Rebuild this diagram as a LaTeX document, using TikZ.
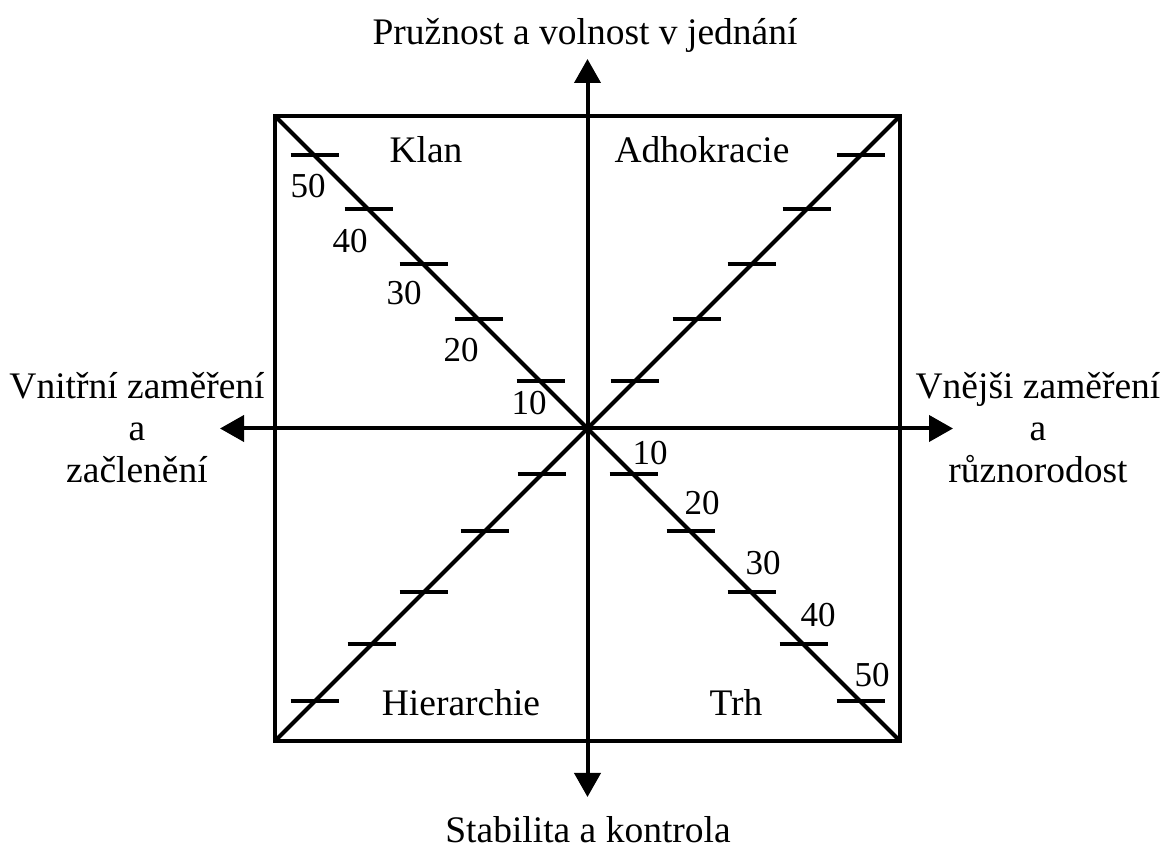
\documentclass[tikz,border=0pt]{standalone}
\usepackage{fontspec}
\setmainfont{Liberation Serif}
\usetikzlibrary{arrows.meta}
\begin{document}
\begin{tikzpicture}[x=0.5pt,y=-0.5pt,
  frame/.style={line width=2pt, line join=miter},
  axisline/.style={line width=2pt, arrows={Triangle[length=12pt,width=13pt]-Triangle[length=12pt,width=13pt]}},
  diag/.style={line width=2pt},
  tickmark/.style={line width=2pt},
  lbl/.style={font=\fontsize{18.75}{21}\selectfont, inner sep=0pt, align=center},
  num/.style={font=\fontsize{17.5}{20}\selectfont, inner sep=0pt, anchor=base}]
\useasboundingbox (0,0) rectangle (1173,854);
% square
\coordinate (tl) at (275,116);
\coordinate (tr) at (900,116);
\coordinate (br) at (900,741);
\coordinate (bl) at (275,741);
\coordinate (c) at (587.5,428.5);
\draw[frame] (tl) -- (tr) -- (br) -- (bl) -- cycle;
% diagonals
\draw[diag] (tl) -- (br);
\draw[diag] (tr) -- (bl);
% axes
\coordinate (up) at (587.5,59);
\coordinate (down) at (587.5,797);
\coordinate (left) at (220,428.5);
\coordinate (right) at (953,428.5);
\draw[axisline] (down) -- (up);
\draw[axisline] (left) -- (right);
% ticks
\foreach \d in {47,109,164,219,273}{
  \draw[tickmark] ({587.5-\d-24},{428.5-\d}) -- ++(48,0);
  \draw[tickmark] ({587.5+\d-24},{428.5-\d}) -- ++(48,0);
}
\foreach \d in {46,103,164,216,273}{
  \draw[tickmark] ({587.5-\d-24},{428.5+\d}) -- ++(48,0);
  \draw[tickmark] ({587.5+\d-24},{428.5+\d}) -- ++(48,0);
}
% numbers upper-left
\node[num] (n50a) at (308,198) {50};
\node[num] (n40a) at (350,253) {40};
\node[num] (n30a) at (404,305) {30};
\node[num] (n20a) at (461,362) {20};
\node[num] (n10a) at (529,415) {10};
% numbers lower-right
\node[num] (n10b) at (650,465) {10};
\node[num] (n20b) at (702,515) {20};
\node[num] (n30b) at (763,575) {30};
\node[num] (n40b) at (818,627) {40};
\node[num] (n50b) at (872,687) {50};
% quadrant labels
\node[lbl, anchor=base] (klan) at (426,163) {Klan};
\node[lbl, anchor=base] (adho) at (702,163) {Adhokracie};
\node[lbl, anchor=base] (hier) at (461,716) {Hierarchie};
\node[lbl, anchor=base] (trh) at (736,716) {Trh};
% axis labels
\node[lbl, anchor=base] (top) at (585,45) {Pružnost a volnost v jednání};
\node[lbl, anchor=base] (bottom) at (588,843) {Stabilita a kontrola};
\node[lbl] (lft) at (137,428) {Vnitřní zaměření\\a\\začlenění};
\node[lbl] (rgt) at (1038,428) {Vnějši zaměření\\a\\různorodost};
\end{tikzpicture}
\end{document}
